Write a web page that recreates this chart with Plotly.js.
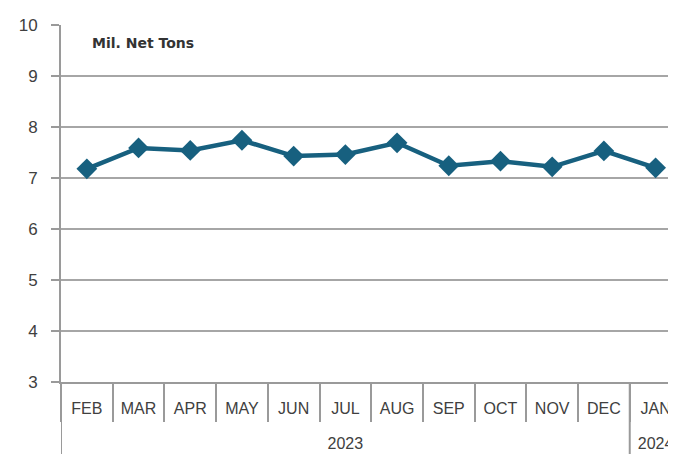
<!DOCTYPE html>
<html>
<head>
<meta charset="utf-8">
<script src="https://cdn.plot.ly/plotly-3.0.1.min.js"></script>
<style>html,body{margin:0;padding:0;background:#fff;}#chart{width:676px;height:454px;}</style>
</head>
<body>
<div id="chart"></div>
<script>
const years = ["2023","2023","2023","2023","2023","2023","2023","2023","2023","2023","2023","2024"];
const months = ["FEB","MAR","APR","MAY","JUN","JUL","AUG","SEP","OCT","NOV","DEC","JAN"];
const production = [7.18, 7.59, 7.54, 7.74, 7.43, 7.46, 7.69, 7.24, 7.33, 7.22, 7.53, 7.20];
const yTicks = [3, 4, 5, 6, 7, 8, 9, 10];
const unitLabel = "Mil. Net Tons";

// year groups derived from the data: centre month and boundaries
const groups = [];
years.forEach((yr, i) => {
  const g = groups[groups.length - 1];
  if (!g || g.year !== yr) groups.push({year: yr, start: i, end: i});
  else g.end = i;
});
const yearTickVals = groups.map(g => months[Math.round((g.start + g.end) / 2)]);
const yearTickText = groups.map(g => g.year);
const boundaries = [-0.5].concat(groups.slice(1).map(g => g.start - 0.5));

const trace = {
  type: "scatter",
  mode: "lines+markers",
  x: months,
  y: production,
  line: {color: "#17607f", width: 4.5},
  marker: {symbol: "diamond", size: 16, color: "#17607f"},
  hoverinfo: "skip"
};
// carrier for the year-level axis (draws nothing)
const yearAxisTrace = {
  type: "scatter", mode: "none",
  x: months, y: production,
  xaxis: "x2", yaxis: "y",
  hoverinfo: "skip", showlegend: false
};

const xRange = [-0.5, 11.24];
const gray = "#9a9a9a";
const txt = "#404040";

const layout = {
  width: 676, height: 454,
  margin: {l: 61, r: 8, t: 25, b: 72},
  paper_bgcolor: "#fff", plot_bgcolor: "#fff",
  showlegend: false,
  font: {family: "Liberation Sans, Arial, sans-serif", color: txt},
  xaxis: {
    type: "category",
    categoryorder: "array", categoryarray: months,
    range: xRange,
    showgrid: false,
    showline: true, linecolor: gray, linewidth: 2,
    ticks: "outside", tickson: "boundaries", ticklen: 38, tickcolor: gray, tickwidth: 2,
    ticklabelstandoff: 11,
    tickfont: {size: 16, color: txt},
    zeroline: false
  },
  xaxis2: {
    type: "category",
    overlaying: "x", anchor: "y", side: "bottom",
    categoryorder: "array", categoryarray: months,
    range: xRange,
    showgrid: false, showline: false, ticks: "",
    tickmode: "array", tickvals: yearTickVals, ticktext: yearTickText,
    ticklabelstandoff: 50,
    tickfont: {size: 16, color: txt},
    zeroline: false
  },
  yaxis: {
    range: [3, 10],
    tickvals: yTicks,
    showgrid: true, gridcolor: "#a6a6a6", gridwidth: 2,
    showline: true, linecolor: gray, linewidth: 2,
    ticks: "outside", ticklen: 8, tickcolor: gray, tickwidth: 2,
    ticklabelstandoff: 10,
    tickfont: {size: 17, color: txt},
    zeroline: false
  },
  annotations: [{
    text: "<b>" + unitLabel + "</b>",
    xref: "paper", yref: "paper", x: 0.047, y: 0.95,
    xanchor: "left", yanchor: "middle", showarrow: false,
    font: {size: 14, color: "#333", family: "DejaVu Sans, sans-serif"}
  }],
  shapes: boundaries.map(b => ({
    type: "line", xref: "x", yref: "paper",
    x0: b, x1: b, y0: 0, y1: -0.3,
    line: {color: gray, width: 2}, layer: "above"
  })).concat([{
    type: "rect", xref: "paper", yref: "paper",
    x0: 1.0, x1: 1.05, y0: -0.4, y1: 1.2,
    fillcolor: "#fff", line: {width: 0}, layer: "above"
  }])
};

Plotly.newPlot("chart", [yearAxisTrace, trace], layout, {displayModeBar: false, staticPlot: true});
</script>
</body>
</html>
